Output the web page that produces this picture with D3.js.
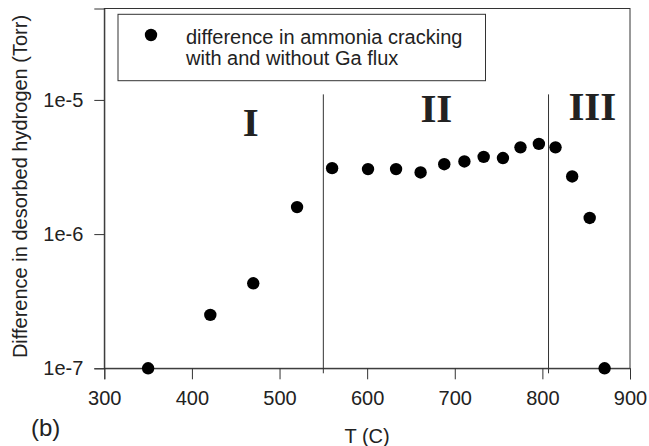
<!DOCTYPE html>
<html>
<head>
<meta charset="utf-8">
<script src="https://cdn.jsdelivr.net/npm/d3@7/dist/d3.min.js"></script>
<style>
  html, body { margin: 0; padding: 0; background: #fff; }
  svg { display: block; }
  text { font-family: "Liberation Sans", Arial, Helvetica, sans-serif; fill: #222; }
</style>
</head>
<body>
<svg id="chart" width="649" height="446"></svg>
<script>
// Data
const temperatures = [350, 421, 470, 520, 560, 601, 633, 661, 688, 711, 733, 755, 775, 796, 815, 834, 854, 871];
const hydrogenDiff = [1.0e-7, 2.5e-7, 4.3e-7, 1.59e-6, 3.1e-6, 3.05e-6, 3.05e-6, 2.88e-6, 3.32e-6, 3.48e-6, 3.76e-6, 3.69e-6, 4.43e-6, 4.70e-6, 4.43e-6, 2.69e-6, 1.32e-6, 1.0e-7];
const xTicks = [300, 400, 500, 600, 700, 800, 900];
const yTicks = [1e-7, 1e-6, 1e-5];
const yTickLabels = ["1e-7", "1e-6", "1e-5"];
const regionBounds = [550, 807];
const regionLabels = ["I", "II", "III"];
const regionLabelX = [467, 679, 857];
const regionLabelY = [5.4e-6, 6.9e-6, 7.1e-6];
const legendLines = ["difference in ammonia cracking", "with and without Ga flux"];

const svg = d3.select("#chart");
const x = d3.scaleLinear().domain([300, 900]).range([104.3, 630]);
const y = d3.scaleLog().domain([1e-7, 4.8e-5]).range([368.3, 8.5]);

const frameColor = "#333";

// Frame
svg.append("rect")
  .attr("x", x(300)).attr("y", y(4.8e-5))
  .attr("width", x(900) - x(300)).attr("height", y(1e-7) - y(4.8e-5))
  .attr("fill", "none").attr("stroke", frameColor).attr("stroke-width", 1);

// X axis
const xAxis = d3.axisBottom(x).tickValues(xTicks).tickSize(11).tickPadding(12).tickFormat(d3.format("d"));
const gx = svg.append("g").attr("transform", `translate(0,${y(1e-7)})`).call(xAxis);
gx.select(".domain").attr("stroke", frameColor);
gx.selectAll(".tick line").attr("stroke", frameColor);
gx.selectAll(".tick text").attr("font-size", 20).attr("fill", "#222")
  .style("font-family", '"Liberation Sans", Arial, sans-serif');

// Y axis
const yAxis = d3.axisLeft(y).tickValues(yTicks).tickSize(10).tickPadding(11)
  .tickFormat((d, i) => yTickLabels[i]);
const gy = svg.append("g").attr("transform", `translate(${x(300)},0)`).call(yAxis);
gy.select(".domain").attr("stroke", frameColor);
gy.selectAll(".tick line").attr("stroke", frameColor);
gy.selectAll(".tick text").attr("font-size", 20).attr("fill", "#222")
  .style("font-family", '"Liberation Sans", Arial, sans-serif');

// Region boundaries
svg.selectAll(".bound").data(regionBounds).enter().append("line")
  .attr("x1", d => x(d)).attr("x2", d => x(d))
  .attr("y1", y(1.1e-5)).attr("y2", y(1e-7) + 5)
  .attr("stroke", frameColor).attr("stroke-width", 1);

// Region labels
svg.selectAll(".region").data(regionLabels).enter().append("text")
  .attr("x", (d, i) => x(regionLabelX[i]))
  .attr("y", (d, i) => y(regionLabelY[i]))
  .attr("text-anchor", "middle")
  .attr("font-size", 41).attr("font-weight", "bold")
  .style("font-family", '"Liberation Serif", "Times New Roman", serif')
  .attr("fill", "#231f20")
  .text(d => d);

// Points
svg.selectAll(".pt").data(temperatures).enter().append("circle")
  .attr("cx", d => x(d))
  .attr("cy", (d, i) => y(hydrogenDiff[i]))
  .attr("r", 6.2).attr("fill", "#000");

// Legend
const lg = svg.append("g");
lg.append("rect").attr("x", 118).attr("y", 14.3).attr("width", 367.5).attr("height", 66.4)
  .attr("fill", "#fff").attr("stroke", frameColor).attr("stroke-width", 1);
lg.append("circle").attr("cx", 151).attr("cy", 35).attr("r", 6.2).attr("fill", "#000");
lg.selectAll(".lt").data(legendLines).enter().append("text")
  .attr("x", 186).attr("y", (d, i) => 43.5 + i * 21)
  .attr("font-size", 20).text(d => d);

// Axis titles
svg.append("text").attr("x", x(600)).attr("y", 442.5).attr("text-anchor", "middle")
  .attr("font-size", 20).text("T (C)");
svg.append("text").attr("transform", "translate(27,186.5) rotate(-90)")
  .attr("text-anchor", "middle").attr("font-size", 20)
  .text("Difference in desorbed hydrogen (Torr)");
svg.append("text").attr("x", 31).attr("y", 436).attr("font-size", 24).text("(b)");
</script>
</body>
</html>
